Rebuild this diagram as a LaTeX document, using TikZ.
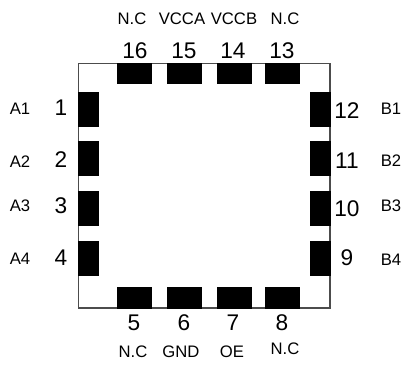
\documentclass[tikz,border=0pt]{standalone}
\usepackage{fontspec}
\setmainfont{Liberation Sans}
\begin{document}
\begin{tikzpicture}[x=0.75pt,y=-0.75pt,
  pad/.style={fill=black,draw=none},
  pinnum/.style={inner sep=0pt,font=\fontsize{17}{19}\selectfont},
  pinname/.style={inner sep=0pt,font=\fontsize{12.5}{14}\selectfont}]
\useasboundingbox (0,0) rectangle (404,365);
\draw[draw=black!70,line width=0.9pt] (78.5,63.5) rectangle (330,308);
% top and bottom pads
\foreach \a/\b in {116.5/152,166.5/202,216.5/252,265/300}{
  \fill[black] (\a,63) rectangle (\b,84);
  \fill[black] (\a,287) rectangle (\b,308.5);
}
% left and right pads
\foreach \a/\b in {92/127,141/176,191/226,241/276}{
  \fill[black] (78,\a) rectangle (99,\b);
  \fill[black] (310,\a) rectangle (330.5,\b);
}
% numbers
\foreach \n/\x/\y in {16/135/51,15/184/51,14/233/51,13/282/51,
  1/61/108,2/61/160,3/61/206,4/61/258,
  12/347/111,11/347/161,10/347/209,9/347/258,
  5/134/323,6/184/323,7/233/323,8/282/323}{
  \node[pinnum] (n\n) at (\x,\y) {\n};
}
% names
\node[pinname] (t1) at (132,19) {N.C};
\node[pinname] (t2) at (182,19) {VCCA};
\node[pinname] (t3) at (234,19) {VCCB};
\node[pinname] (t4) at (285,19) {N.C};
\node[pinname] (l1) at (20,109) {A1};
\node[pinname] (l2) at (20,162) {A2};
\node[pinname] (l3) at (20,206) {A3};
\node[pinname] (l4) at (20,259) {A4};
\node[pinname] (r1) at (391,109) {B1};
\node[pinname] (r2) at (391,161) {B2};
\node[pinname] (r3) at (391,206) {B3};
\node[pinname] (r4) at (391,260) {B4};
\node[pinname] (b1) at (133,352) {N.C};
\node[pinname] (b2) at (181,352) {GND};
\node[pinname] (b3) at (232,352) {OE};
\node[pinname] (b4) at (285,349) {N.C};
\end{tikzpicture}
\end{document}
